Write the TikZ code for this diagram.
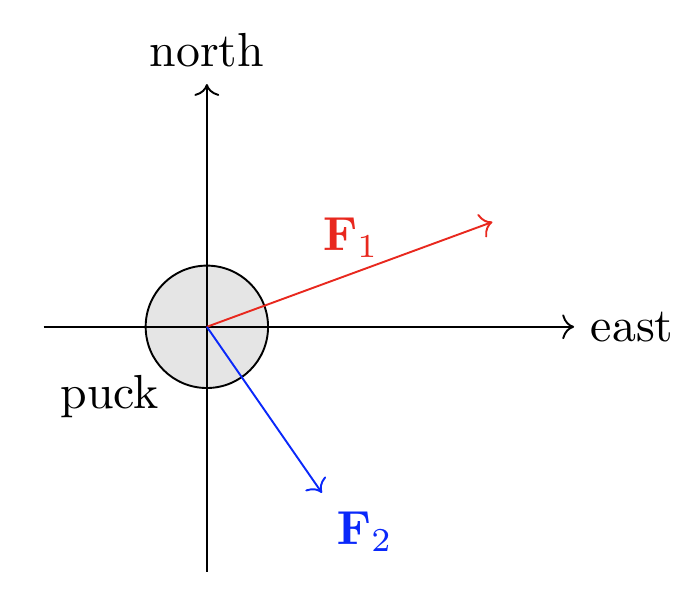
\documentclass[tikz,border=0pt]{standalone}
\usetikzlibrary{arrows.meta}
\definecolor{fred}{RGB}{232,40,30}
\definecolor{fblue}{RGB}{10,40,250}
\begin{document}
\begin{tikzpicture}[x=0.3cm,y=0.3cm,ax/.style={->,>=To}]
\useasboundingbox (-5.07,-6.89) rectangle (11.89,8.01);
\node[circle,draw,fill=black!10,minimum size=0.9cm,inner sep=0] (puck) at (0,0) {};
\coordinate (o) at (0,0);
\coordinate (xl) at (-4,0); \coordinate (xr) at (9,0);
\coordinate (yb) at (0,-6); \coordinate (yt) at (0,5.95);
\draw[ax] (xl) -- (xr) node[right] (east) {east};
\draw[ax] (yb) -- (yt) node[above] (north) {north};
\coordinate (f1) at (7,2.57); \coordinate (f2) at (2.82,-4.07);
\draw[ax,fred] (o) -- (f1);
\draw[ax,fblue] (o) -- (f2);
\node at (-2.38,-1.72) (pl) {puck};
\node[fred] at (3.53,2.19) (F1) {$\mathbf{F}_1$};
\node[fblue] at (3.87,-5.02) (F2) {$\mathbf{F}_2$};
\end{tikzpicture}
\end{document}
